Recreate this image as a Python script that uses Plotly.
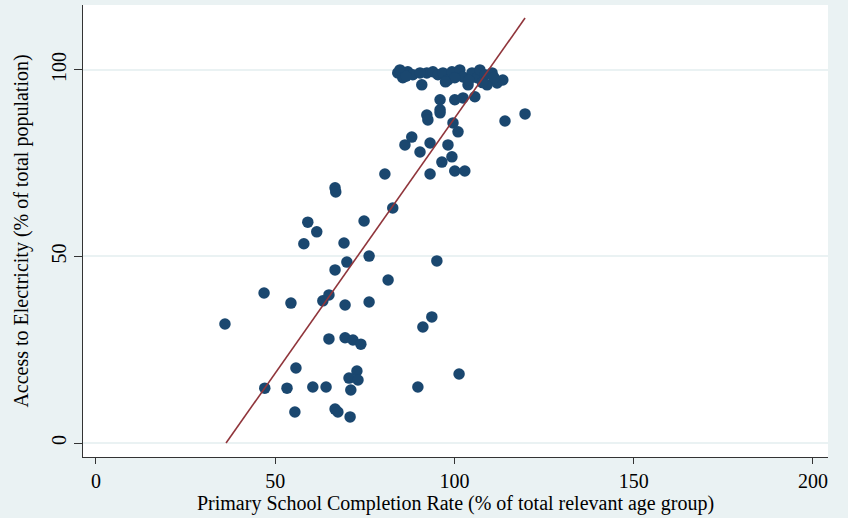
import plotly.graph_objects as go

# Primary school completion rate (x) vs access to electricity (y)
completion = [
    84.2, 85.6, 87.0, 88.4, 90.9, 92.3, 94.0, 95.4, 96.8, 98.2, 99.3, 101.5, 102.4,
    103.8, 104.9, 106.3, 107.1, 108.5, 109.1, 110.5, 111.9, 113.5, 84.8, 90.4, 100.1,
    86.5, 97.5, 104.0, 107.8, 111.0,
    96.0, 96.0, 100.1, 102.4, 105.7, 92.3, 92.6, 96.0, 99.6, 101.0, 114.1, 119.7,
    86.2, 88.1, 90.4, 93.2, 98.2, 96.5, 99.3, 93.2, 100.1, 102.9, 80.6, 82.8,
    66.7, 66.9, 59.1, 61.6, 58.0, 74.8, 69.2, 76.2, 70.0, 66.7, 95.1, 81.5,
    46.9, 54.4, 63.3, 65.0, 69.5, 76.2, 36.0, 93.7, 91.2,
    65.0, 69.5, 71.7, 73.9, 55.8, 72.8, 70.6, 73.1, 47.1, 53.3, 60.5, 64.2,
    71.1, 89.8, 101.3, 55.5, 66.7, 67.5, 70.9,
]
electricity = [
    99.2, 97.9, 99.5, 98.7, 96.0, 99.2, 99.5, 98.7, 99.2, 97.3, 99.5, 100.0, 98.1,
    96.0, 99.2, 97.9, 100.0, 98.7, 96.0, 99.2, 96.5, 97.3, 100.0, 99.2, 97.9,
    98.3, 96.8, 97.2, 96.6, 98.0,
    92.0, 89.3, 92.0, 92.5, 92.8, 87.9, 86.6, 88.5, 85.8, 83.4, 86.3, 88.2,
    79.9, 82.0, 78.0, 80.4, 79.9, 75.3, 76.7, 72.1, 72.9, 72.9, 72.1, 63.0,
    68.4, 67.3, 59.2, 56.6, 53.4, 59.5, 53.6, 50.1, 48.5, 46.4, 48.8, 43.7,
    40.2, 37.5, 38.1, 39.7, 37.0, 37.8, 31.9, 33.8, 31.1,
    27.9, 28.2, 27.6, 26.5, 20.1, 19.3, 17.4, 16.9, 14.7, 14.7, 15.0, 15.0,
    14.2, 15.0, 18.5, 8.3, 9.1, 8.3, 7.0,
]

# Linear fit line endpoints (over the range of the data)
fit_x = [36.3, 119.7]
fit_y = [0.0, 113.9]

x_ticks = [0, 50, 100, 150, 200]
y_ticks = [0, 50, 100]

BG = "#EAF2F3"
FONT = "Liberation Serif"

fig = go.Figure()
fig.add_trace(go.Scatter(
    x=completion, y=electricity, mode="markers",
    marker=dict(color="#1a476f", size=11.5, line=dict(width=0)),
    showlegend=False, hoverinfo="x+y",
))
fig.add_trace(go.Scatter(
    x=fit_x, y=fit_y, mode="lines",
    line=dict(color="#90353b", width=1.6),
    showlegend=False,
))

fig.update_layout(
    width=848, height=518,
    margin=dict(l=83, r=20, t=5, b=61),
    paper_bgcolor=BG, plot_bgcolor="white",
    font=dict(family=FONT, size=20, color="black"),
    xaxis=dict(
        range=[-3.6, 204.2], tickvals=x_ticks, ticks="outside", ticklen=6,
        tickcolor="#333", showgrid=False, zeroline=False,
        showline=True, linecolor="#333", linewidth=1,
        tickfont=dict(family=FONT, size=20),
        title=dict(text="Primary School Completion Rate (% of total relevant age group)",
                   font=dict(family=FONT, size=20), standoff=4),
    ),
    yaxis=dict(
        range=[-3.75, 117.4], tickvals=y_ticks, ticks="outside", ticklen=8,
        tickcolor="#333", showgrid=True, gridcolor=BG, gridwidth=1.5,
        zeroline=False, showline=True, linecolor="#333", linewidth=1,
        tickangle=-90, tickfont=dict(family=FONT, size=20),
        title=dict(text="Access to Electricity (% of total population)",
                   font=dict(family=FONT, size=20), standoff=14),
    ),
)

fig.write_html("out.html")
